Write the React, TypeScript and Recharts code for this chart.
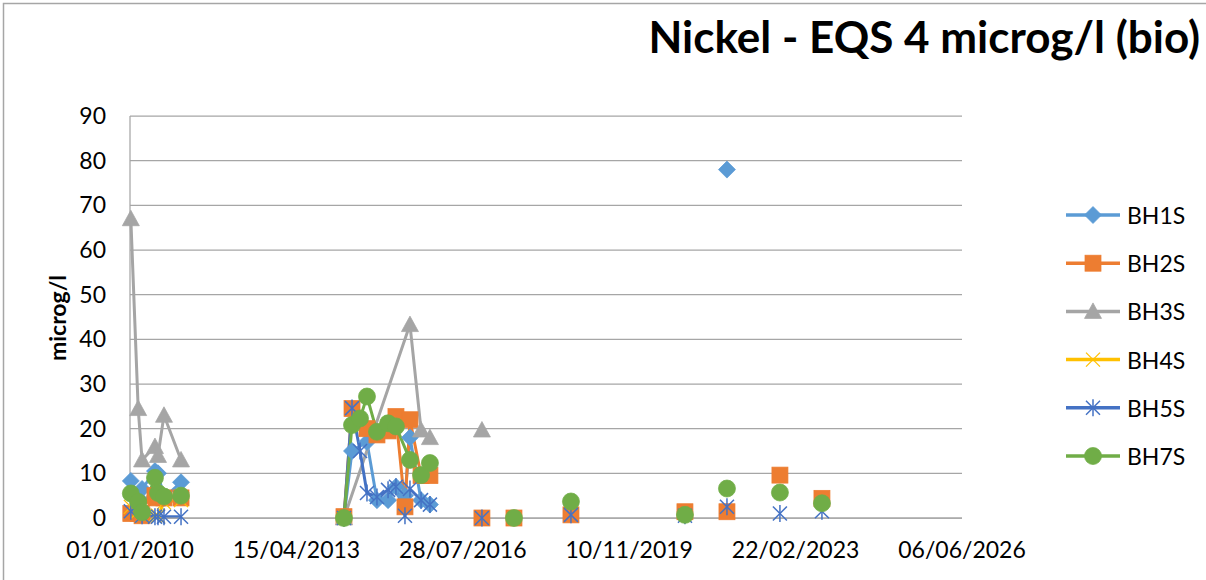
import React from 'react';
import { LineChart, Line, XAxis, YAxis, CartesianGrid } from 'recharts';

type Pt = [string, number];

// x-axis tick labels (dd/mm/yyyy)
const xTickLabels = ['01/01/2010', '15/04/2013', '28/07/2016', '10/11/2019', '22/02/2023', '06/06/2026'];
const yTicks = [0, 10, 20, 30, 40, 50, 60, 70, 80, 90];
const seriesNames = ['BH1S', 'BH2S', 'BH3S', 'BH4S', 'BH5S', 'BH7S'];

// Each series: list of connected runs of [date, value]
const BH1S: Pt[][] = [
  [['07/01/2010', 8.3], ['01/03/2010', 4.5], ['29/03/2010', 6.5], ['30/06/2010', 10.5], ['22/07/2010', 10], ['03/09/2010', 4.5], ['04/01/2011', 8]],
  [['24/03/2014', 0], ['21/05/2014', 15], ['06/09/2014', 17], ['17/11/2014', 4], ['05/02/2015', 4], ['03/04/2015', 7], ['07/06/2015', 5], ['13/07/2015', 18], ['01/10/2015', 4], ['04/12/2015', 3]],
  [['15/10/2021', 78]],
];
const BH2S: Pt[][] = [
  [['07/01/2010', 1], ['01/03/2010', 1], ['29/03/2010', 0.5], ['30/06/2010', 5], ['22/07/2010', 4.5], ['03/09/2010', 4.5], ['04/01/2011', 4.5]],
  [['24/03/2014', 0.3], ['21/05/2014', 24.5], ['06/09/2014', 20], ['17/11/2014', 18.6], ['05/02/2015', 19.5], ['03/04/2015', 22.7], ['07/06/2015', 2.5], ['13/07/2015', 22], ['01/10/2015', 9.5], ['04/12/2015', 9.5]],
  [['13/12/2016', 0]],
  [['01/08/2017', 0]],
  [['16/09/2018', 0.7]],
  [['16/12/2020', 1.4]],
  [['15/10/2021', 1.4]],
  [['01/11/2022', 9.6]],
  [['31/08/2023', 4.4]],
];
const BH3S: Pt[][] = [
  [['07/01/2010', 67], ['01/03/2010', 24.5], ['29/03/2010', 13], ['30/06/2010', 16], ['22/07/2010', 14], ['03/09/2010', 23], ['04/01/2011', 13]],
  [['24/03/2014', 0], ['13/07/2015', 43.3], ['01/10/2015', 19.7], ['04/12/2015', 18]],
  [['13/12/2016', 19.7]],
];
const BH4S: Pt[][] = [
  [['07/01/2010', 2.5], ['01/03/2010', 1.5], ['29/03/2010', 0.5], ['30/06/2010', 0.5], ['22/07/2010', 0.5], ['03/09/2010', 3.5], ['04/01/2011', 4]],
];
const BH5S: Pt[][] = [
  [['07/01/2010', 1.5], ['01/03/2010', 3], ['29/03/2010', 0.5], ['30/06/2010', 0.3], ['22/07/2010', 0.3], ['03/09/2010', 0.3], ['04/01/2011', 0.3]],
  [['24/03/2014', 0], ['21/05/2014', 24.6], ['18/07/2014', 15], ['06/09/2014', 5.6], ['17/11/2014', 4.7], ['05/02/2015', 6.3], ['03/04/2015', 7], ['07/06/2015', 0.5], ['13/07/2015', 6.5], ['01/10/2015', 4], ['04/12/2015', 3]],
  [['13/12/2016', 0]],
  [['16/09/2018', 0.7]],
  [['16/12/2020', 0.5]],
  [['15/10/2021', 2.5]],
  [['01/11/2022', 1]],
  [['31/08/2023', 1.5]],
];
const BH7S: Pt[][] = [
  [['07/01/2010', 5.5], ['01/03/2010', 3.6], ['29/03/2010', 1.3], ['30/06/2010', 9], ['22/07/2010', 5.6], ['03/09/2010', 4.8], ['04/01/2011', 5]],
  [['24/03/2014', 0], ['21/05/2014', 20.8], ['18/07/2014', 22.3], ['06/09/2014', 27.2], ['17/11/2014', 19.3], ['05/02/2015', 21.2], ['03/04/2015', 20.5], ['13/07/2015', 13], ['01/10/2015', 9.6], ['04/12/2015', 12.3]],
  [['01/08/2017', 0]],
  [['16/09/2018', 3.7]],
  [['16/12/2020', 0.7]],
  [['15/10/2021', 6.6]],
  [['01/11/2022', 5.7]],
  [['31/08/2023', 3.3]],
];

const COLORS = ['#5B9BD5', '#ED7D31', '#A5A5A5', '#FFC000', '#4472C4', '#70AD47'];
const SHAPES = ['diamond', 'square', 'triangle', 'x', 'star', 'circle'];
const SERIES = [BH1S, BH2S, BH3S, BH4S, BH5S, BH7S];

const parse = (s: string) => {
  const [d, m, y] = s.split('/').map(Number);
  return Date.UTC(y, m - 1, d);
};
const pad = (n: number) => (n < 10 ? '0' + n : '' + n);
const fmt = (t: number) => {
  const d = new Date(t);
  return pad(d.getUTCDate()) + '/' + pad(d.getUTCMonth() + 1) + '/' + d.getUTCFullYear();
};

const build = (runs: Pt[][]) => {
  const out: { t: number; v: number | null }[] = [];
  runs.forEach((run, i) => {
    if (i > 0) {
      const prev = out[out.length - 1].t;
      const next = parse(run[0][0]);
      out.push({ t: (prev + next) / 2, v: null });
    }
    run.forEach(([d, v]) => out.push({ t: parse(d), v }));
  });
  return out;
};

const xTicks = xTickLabels.map(parse);
const FONT = 'Lato, "Open Sans", sans-serif';

function Marker({ shape, color, cx, cy }: { shape: string; color: string; cx: number; cy: number }) {
  const s = 8.5;
  switch (shape) {
    case 'diamond':
      return <polygon points={`${cx},${cy - s} ${cx + s},${cy} ${cx},${cy + s} ${cx - s},${cy}`} fill={color} stroke={color} strokeWidth={0.75} />;
    case 'square':
      return <rect x={cx - 8} y={cy - 8} width={16} height={16} fill={color} stroke={color} strokeWidth={0.75} />;
    case 'triangle':
      return <polygon points={`${cx},${cy - 8.5} ${cx + 8.5},${cy + 7} ${cx - 8.5},${cy + 7}`} fill={color} stroke={color} strokeWidth={0.75} />;
    case 'x':
      return (
        <g stroke={color} strokeWidth={1.25}>
          <line x1={cx - 7} y1={cy - 7} x2={cx + 7} y2={cy + 7} />
          <line x1={cx - 7} y1={cy + 7} x2={cx + 7} y2={cy - 7} />
        </g>
      );
    case 'star':
      return (
        <g stroke={color} strokeWidth={1.5}>
          <line x1={cx - 7} y1={cy - 7} x2={cx + 7} y2={cy + 7} />
          <line x1={cx - 7} y1={cy + 7} x2={cx + 7} y2={cy - 7} />
          <line x1={cx} y1={cy - 8.5} x2={cx} y2={cy + 8.5} />
        </g>
      );
    default:
      return <circle cx={cx} cy={cy} r={8.5} fill={color} stroke={color} strokeWidth={0.75} />;
  }
}

export default function App() {
  return (
    <div style={{ position: 'absolute', left: 0, top: 0, width: 1206, height: 580, background: '#fff', overflow: 'hidden', fontFamily: FONT }}>
      <LineChart width={1206} height={580} margin={{ top: 116, right: 244, bottom: 22, left: 70 }}>
        <CartesianGrid vertical={false} stroke="#a6a6a6" strokeWidth={1.25} />
        <XAxis
          type="number"
          dataKey="t"
          domain={[xTicks[0], xTicks[xTicks.length - 1]]}
          ticks={xTicks}
          tickFormatter={fmt}
          height={40}
          tickLine={false}
          tickSize={0}
          tickMargin={24}
          axisLine={{ stroke: '#a6a6a6', strokeWidth: 1.25 }}
          tick={{ fill: '#000', fontSize: 23, fontFamily: FONT }}
        />
        <YAxis
          type="number"
          domain={[0, 90]}
          ticks={yTicks}
          width={60}
          tickLine={false}
          tickSize={0}
          tickMargin={24}
          axisLine={{ stroke: '#a6a6a6', strokeWidth: 1.25 }}
          tick={{ fill: '#000', fontSize: 23, fontFamily: FONT }}
        />
        {SERIES.map((runs, i) => (
          <Line
            key={seriesNames[i]}
            name={seriesNames[i]}
            data={build(runs)}
            dataKey="v"
            stroke={COLORS[i]}
            strokeWidth={3}
            isAnimationActive={false}
            connectNulls={false}
            activeDot={false}
            dot={(p: any) =>
              p.value == null || p.cy == null ? (
                <g key={`d-${i}-${p.index}`} />
              ) : (
                <g key={`d-${i}-${p.index}`}>
                  <Marker shape={SHAPES[i]} color={COLORS[i]} cx={p.cx} cy={p.cy} />
                </g>
              )
            }
          />
        ))}
      </LineChart>
      <svg width={1206} height={580} style={{ position: 'absolute', left: 0, top: 0, pointerEvents: 'none' }}>
        <rect x={3.5} y={3.5} width={1300} height={700} fill="none" stroke="#a6a6a6" strokeWidth={1.5} />
        <text x={1200} y={53} textAnchor="end" fontFamily={FONT} fontWeight="bold" fontSize={44} fill="#000">
          Nickel - EQS 4 microg/l (bio)
        </text>
        <text transform="translate(57,318) rotate(-90)" textAnchor="middle" dominantBaseline="central" fontFamily={FONT} fontWeight="bold" fontSize={23} fill="#000">
          microg/l
        </text>
        {seriesNames.map((n, i) => {
          const y = 215 + i * 48.2;
          return (
            <g key={n}>
              <line x1={1066} y1={y} x2={1120} y2={y} stroke={COLORS[i]} strokeWidth={3.5} />
              <Marker shape={SHAPES[i]} color={COLORS[i]} cx={1093} cy={y} />
              <text x={1127} y={y} dominantBaseline="central" fontFamily={FONT} fontSize={23} fill="#000">
                {n}
              </text>
            </g>
          );
        })}
      </svg>
    </div>
  );
}
